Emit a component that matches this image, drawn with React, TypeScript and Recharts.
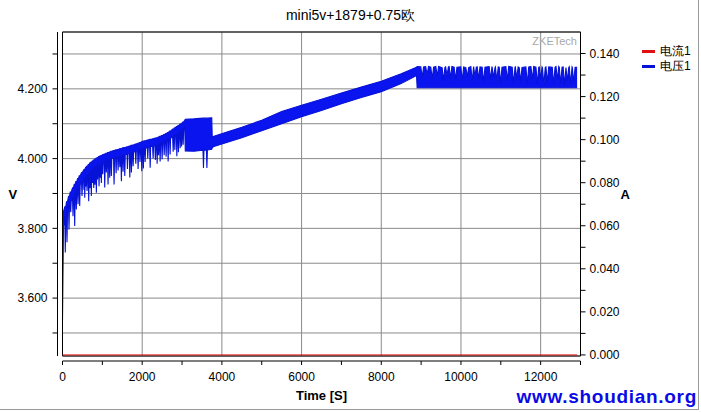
import React from 'react';
import { ComposedChart, Area, Line, XAxis, YAxis, CartesianGrid, ReferenceArea, Legend, Label } from 'recharts';

const chartTitle = 'mini5v+1879+0.75欧';
const currentName = '电流1';
const voltageName = '电压1';
const legendOrder = [currentName, voltageName];

const timeTicks = [0, 1000, 2000, 3000, 4000, 5000, 6000, 7000, 8000, 9000, 10000, 11000, 12000, 13000];
const gridTimes = [2000, 4000, 6000, 8000, 10000, 12000];
const voltTicks = [3.5, 3.6, 3.7, 3.8, 3.9, 4.0, 4.1, 4.2, 4.3];
const ampTicks = [0, 0.01, 0.02, 0.03, 0.04, 0.05, 0.06, 0.07, 0.08, 0.09, 0.1, 0.11, 0.12, 0.13, 0.14];

const timeDomain: [number, number] = [0, 13000];
const voltDomain: [number, number] = [3.434, 4.363];
const ampDomain: [number, number] = [-0.0005, 0.15];

// outline of the voltage band: [time s, upper V, lower V]
const voltageOutline: [number, number, number][] = [
  [0, 3.835, 3.535],
  [25, 3.848, 3.805],
  [3068, 4.11, 4.088],
  [3082, 4.113, 4.022],
  [3300, 4.114, 4.021],
  [3746, 4.117, 4.027],
  [3758, 4.061, 4.031],
  [3800, 4.064, 4.035],
  [4500, 4.09, 4.06],
  [5000, 4.11, 4.08],
  [5500, 4.135, 4.1],
  [6000, 4.153, 4.12],
  [6500, 4.17, 4.138],
  [7000, 4.188, 4.157],
  [7500, 4.205, 4.175],
  [8000, 4.222, 4.192],
  [8500, 4.243, 4.215],
  [8885, 4.262, 4.238],
  [8900, 4.264, 4.203],
  [12915, 4.262, 4.203],
];

// downward spikes: [time s, upper V, lower V, spike tip V]
const voltageDips: [number, number, number, number][] = [
  [70, 3.862, 3.835, 3.731],
  [113, 3.876, 3.85, 3.76],
  [163, 3.892, 3.866, 3.797],
  [206, 3.904, 3.878, 3.846],
  [264, 3.916, 3.89, 3.835],
  [306, 3.926, 3.9, 3.807],
  [347, 3.934, 3.908, 3.854],
  [390, 3.943, 3.917, 3.869],
  [432, 3.951, 3.925, 3.864],
  [490, 3.96, 3.934, 3.893],
  [540, 3.967, 3.94, 3.91],
  [558, 3.97, 3.945, 3.888],
  [590, 3.975, 3.95, 3.92],
  [616, 3.978, 3.955, 3.907],
  [658, 3.983, 3.96, 3.878],
  [690, 3.987, 3.963, 3.915],
  [724, 3.99, 3.968, 3.893],
  [755, 3.993, 3.97, 3.93],
  [784, 3.996, 3.974, 3.916],
  [815, 3.998, 3.977, 3.925],
  [850, 4.001, 3.98, 3.902],
  [880, 4.003, 3.982, 3.94],
  [917, 4.006, 3.985, 3.921],
  [945, 4.007, 3.986, 3.945],
  [975, 4.009, 3.988, 3.93],
  [1010, 4.011, 3.99, 3.955],
  [1060, 4.013, 3.992, 3.917],
  [1100, 4.015, 3.994, 3.96],
  [1143, 4.017, 3.996, 3.926],
  [1185, 4.019, 3.998, 3.945],
  [1226, 4.021, 4.0, 3.95],
  [1294, 4.023, 4.002, 3.926],
  [1345, 4.025, 4.004, 3.958],
  [1395, 4.026, 4.005, 3.966],
  [1440, 4.028, 4.007, 3.975],
  [1478, 4.029, 4.008, 3.935],
  [1520, 4.031, 4.01, 3.962],
  [1563, 4.032, 4.011, 3.95],
  [1630, 4.034, 4.013, 3.97],
  [1689, 4.036, 4.015, 3.946],
  [1730, 4.038, 4.017, 3.96],
  [1772, 4.039, 4.018, 3.978],
  [1840, 4.042, 4.021, 3.985],
  [1897, 4.044, 4.023, 3.97],
  [1945, 4.046, 4.025, 3.99],
  [1990, 4.048, 4.027, 3.964],
  [2030, 4.05, 4.029, 3.972],
  [2073, 4.051, 4.03, 3.99],
  [2140, 4.053, 4.032, 4.0],
  [2200, 4.055, 4.034, 3.974],
  [2274, 4.057, 4.036, 4.0],
  [2330, 4.059, 4.038, 3.996],
  [2375, 4.06, 4.039, 3.985],
  [2410, 4.062, 4.041, 4.01],
  [2450, 4.064, 4.043, 3.992],
  [2500, 4.066, 4.045, 3.998],
  [2551, 4.069, 4.048, 4.01],
  [2600, 4.072, 4.051, 4.005],
  [2651, 4.075, 4.054, 3.992],
  [2700, 4.079, 4.058, 4.012],
  [2777, 4.085, 4.063, 4.02],
  [2820, 4.088, 4.066, 4.025],
  [2870, 4.092, 4.07, 4.007],
  [2910, 4.095, 4.073, 4.018],
  [2953, 4.098, 4.076, 4.03],
  [2990, 4.101, 4.08, 4.035],
  [3028, 4.105, 4.083, 4.04],
  [3538, 4.116, 4.024, 3.973],
  [3624, 4.116, 4.025, 3.973],
];

// white gaps in the top of the plateau: [time s, upper V, lower V, gap floor V]
const plateauGaps: [number, number, number, number][] = [
  [9027, 4.263, 4.203, 4.232],
  [9150, 4.264, 4.203, 4.24],
  [9278, 4.262, 4.203, 4.228],
  [9404, 4.264, 4.203, 4.236],
  [9562, 4.261, 4.203, 4.224],
  [9650, 4.263, 4.203, 4.238],
  [9738, 4.264, 4.203, 4.23],
  [9864, 4.262, 4.203, 4.226],
  [10032, 4.263, 4.203, 4.222],
  [10158, 4.261, 4.203, 4.234],
  [10283, 4.264, 4.203, 4.22],
  [10350, 4.262, 4.203, 4.236],
  [10442, 4.263, 4.203, 4.228],
  [10567, 4.262, 4.203, 4.218],
  [10743, 4.264, 4.203, 4.226],
  [10819, 4.261, 4.203, 4.232],
  [10900, 4.263, 4.203, 4.222],
  [10995, 4.262, 4.203, 4.216],
  [11163, 4.264, 4.203, 4.224],
  [11321, 4.262, 4.203, 4.214],
  [11400, 4.263, 4.203, 4.23],
  [11497, 4.261, 4.203, 4.22],
  [11665, 4.263, 4.203, 4.212],
  [11791, 4.264, 4.203, 4.226],
  [11917, 4.262, 4.203, 4.214],
  [12000, 4.263, 4.203, 4.228],
  [12080, 4.261, 4.203, 4.21],
  [12168, 4.263, 4.203, 4.218],
  [12326, 4.262, 4.203, 4.212],
  [12420, 4.264, 4.203, 4.226],
  [12502, 4.262, 4.203, 4.214],
  [12600, 4.263, 4.203, 4.21],
  [12670, 4.261, 4.203, 4.222],
  [12753, 4.263, 4.203, 4.212],
  [12829, 4.262, 4.203, 4.218],
];

// current stays at zero: [time s, A]
const currentSamples: [number, number][] = [
  [0, 0],
  [12915, 0],
];

const BLUE = '#0a14ee';
const BLUE_EDGE = '#0612d6';
const RED = '#e01010';
const GRID = '#8a8a8a';
const SPIKE_HALF = 12;
const GAP_HALF = 35;

type Row = { t: number; band?: [number, number]; current?: number };

function buildRows(): Row[] {
  const byTime = new Map<number, Row>();
  const put = (t: number, hi: number, lo: number) => byTime.set(t, { ...byTime.get(t), t, band: [lo, hi] });
  voltageOutline.forEach(([t, hi, lo]) => put(t, hi, lo));
  voltageDips.forEach(([t, hi, lo, tip]) => {
    put(t - SPIKE_HALF, hi, lo);
    put(t, hi, tip);
    put(t + SPIKE_HALF, hi, lo);
  });
  plateauGaps.forEach(([t, hi, lo, floor]) => {
    put(t - GAP_HALF, hi, lo);
    put(t, floor, lo);
    put(t + GAP_HALF, hi, lo);
  });
  currentSamples.forEach(([t, a]) => byTime.set(t, { ...byTime.get(t), t, current: a }));
  return [...byTime.values()].sort((a, b) => a.t - b.t);
}

const chartData = buildRows();

const fmtVolt = (v: number) => (Math.round(v * 10) % 2 === 0 ? v.toFixed(3) : '');
const fmtAmp = (v: number) => (Math.round(v * 100) % 2 === 0 ? v.toFixed(3) : '');
const fmtTime = (v: number) => (v % 2000 === 0 ? String(v) : '');

const renderLegend = (props: any) => {
  const items = [...(props.payload ?? [])].sort(
    (a: any, b: any) => legendOrder.indexOf(a.value) - legendOrder.indexOf(b.value)
  );
  return (
    <div style={{ fontSize: 12, lineHeight: '15px', color: '#000' }}>
      {items.map((p: any) => (
        <div key={p.value} style={{ display: 'flex', alignItems: 'center' }}>
          <span style={{ display: 'inline-block', width: 13, height: 3, background: p.color, marginRight: 5 }} />
          <span>{p.value}</span>
        </div>
      ))}
    </div>
  );
};

export default function App() {
  return (
    <div
      style={{
        position: 'absolute',
        left: 0,
        top: 0,
        width: 701,
        height: 412,
        background: '#fff',
        fontFamily: '"Liberation Sans", Arial, sans-serif',
        overflow: 'hidden',
      }}
    >
      <div
        style={{
          position: 'absolute',
          left: 0,
          top: 0,
          width: 698,
          height: 409,
          borderRight: '1px solid #9a9a9a',
          borderBottom: '1px solid #9a9a9a',
        }}
      />
      <div style={{ position: 'absolute', left: 0, width: 701, top: 6, textAlign: 'center', fontSize: 14, lineHeight: '18px', color: '#000' }}>
        {chartTitle}
      </div>
      <ComposedChart
        width={701}
        height={412}
        data={chartData}
        margin={{ top: 32, right: 55.5, bottom: 21, left: 0.5 }}
        style={{ position: 'absolute', left: 0, top: 0 }}
      >
        <XAxis xAxisId="gapB" type="number" domain={[0, 1]} height={5} tick={false} axisLine={false} tickLine={false} />
        <XAxis
          xAxisId="t"
          dataKey="t"
          type="number"
          domain={timeDomain}
          ticks={timeTicks}
          interval={0}
          tickFormatter={fmtTime}
          height={30}
          tickSize={4}
          tickMargin={7}
          stroke="#000"
          tick={{ fill: '#000', fontSize: 12 }}
        >
          <Label value="Time [S]" position="bottom" offset={0} style={{ fontWeight: 'bold', fontSize: 13, fill: '#000' }} />
        </XAxis>
        <YAxis yAxisId="gapL" orientation="left" type="number" domain={[0, 1]} width={5} tick={false} axisLine={false} tickLine={false} />
        <YAxis
          yAxisId="v"
          orientation="left"
          type="number"
          domain={voltDomain}
          allowDataOverflow
          ticks={voltTicks}
          interval={0}
          tickFormatter={fmtVolt}
          width={57}
          tickSize={5}
          tickMargin={5}
          stroke="#000"
          tick={{ fill: '#000', fontSize: 12 }}
        >
          <Label value="V" position="insideLeft" offset={8} style={{ fontWeight: 'bold', fontSize: 13, fill: '#000' }} />
        </YAxis>
        <YAxis yAxisId="gapR" orientation="right" type="number" domain={[0, 1]} width={5} tick={false} axisLine={false} tickLine={false} />
        <YAxis
          yAxisId="a"
          orientation="right"
          type="number"
          domain={ampDomain}
          allowDataOverflow
          ticks={ampTicks}
          interval={0}
          tickFormatter={fmtAmp}
          width={60}
          tickSize={5}
          tickMargin={4}
          stroke="#000"
          tick={{ fill: '#000', fontSize: 12 }}
        >
          <Label value="A" position="insideLeft" offset={40} style={{ fontWeight: 'bold', fontSize: 13, fill: '#000' }} />
        </YAxis>
        <CartesianGrid xAxisId="t" yAxisId="v" stroke={GRID} verticalValues={gridTimes} />
        <Line
          xAxisId="t"
          yAxisId="a"
          dataKey="current"
          name={currentName}
          stroke={RED}
          strokeWidth={1}
          dot={false}
          activeDot={false}
          connectNulls
          isAnimationActive={false}
        />
        <Area
          xAxisId="t"
          yAxisId="v"
          dataKey="band"
          name={voltageName}
          type="linear"
          stroke={BLUE_EDGE}
          strokeWidth={1.1}
          fill={BLUE}
          fillOpacity={1}
          dot={false}
          activeDot={false}
          isAnimationActive={false}
        />
        <ReferenceArea
          xAxisId="t"
          yAxisId="v"
          x1={timeDomain[0]}
          x2={timeDomain[1]}
          y1={voltDomain[0]}
          y2={voltDomain[1]}
          fill="none"
          stroke="#000"
          strokeWidth={1}
          ifOverflow="visible"
        />
        <Legend
          layout="horizontal"
          verticalAlign="middle"
          align="center"
          content={renderLegend}
          wrapperStyle={{ position: 'absolute', top: 44, left: 642, width: 60 }}
        />
      </ComposedChart>
      <div style={{ position: 'absolute', right: 124, top: 35, fontSize: 11, lineHeight: '13px', color: '#a8a8a8' }}>ZKETech</div>
      <div
        style={{
          position: 'absolute',
          right: 4,
          top: 386,
          fontSize: 19,
          lineHeight: '22px',
          fontWeight: 'bold',
          letterSpacing: 0.7,
          color: '#0a0ae6',
        }}
      >
        www.shoudian.org
      </div>
    </div>
  );
}
